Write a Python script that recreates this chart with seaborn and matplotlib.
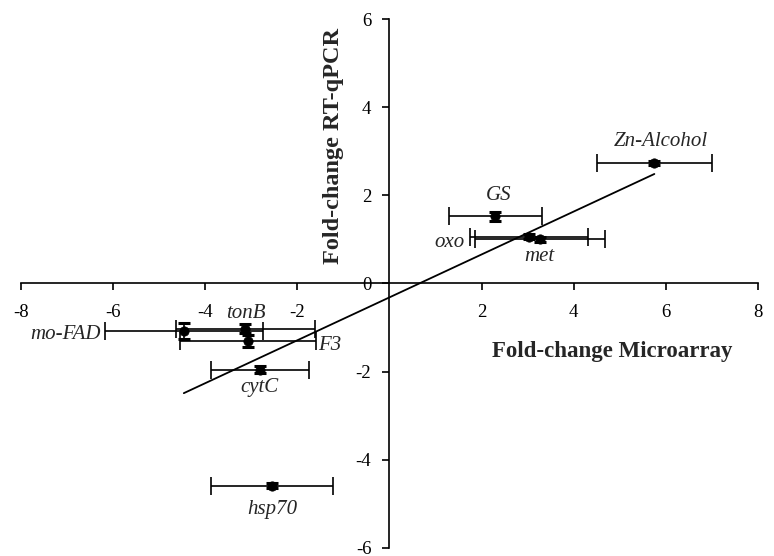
import numpy as np
import pandas as pd

import matplotlib
matplotlib.use("Agg")
import matplotlib.pyplot as plt
import seaborn as sns

# values
genes = ["Zn-Alcohol", "GS", "oxo", "met", "mo-FAD", "tonB", "F3", "cytC", "hsp70"]
microarray = [5.75, 2.30, 3.03, 3.26, -4.46, -3.13, -3.07, -2.81, -2.54]
qpcr = [2.73, 1.52, 1.06, 1.00, -1.08, -1.03, -1.31, -1.96, -4.59]
microarray_err = [1.24, 1.01, 1.29, 1.41, 1.72, 1.51, 1.47, 1.07, 1.32]
qpcr_err = [0.05, 0.11, 0.06, 0.06, 0.18, 0.10, 0.13, 0.08, 0.06]

x_ticks = [-8, -6, -4, -2, 2, 4, 6, 8]
y_ticks = [-6, -4, -2, 0, 2, 4, 6]

df = pd.DataFrame({"gene": genes, "x": microarray, "y": qpcr,
                   "xerr": microarray_err, "yerr": qpcr_err})

# label placement (pixel offsets from the point, alignment)
label_pos = {
    "Zn-Alcohol": (6, 22, "center"),
    "GS": (3, 21, "center"),
    "oxo": (-64, -6, "right"),
    "met": (0, -17, "center"),
    "mo-FAD": (-83, -3, "right"),
    "tonB": (1, 15, "center"),
    "F3": (70, -4, "left"),
    "cytC": (0, -18, "center"),
    "hsp70": (0, -24, "center"),
}

sns.set_theme(style="white")
plt.rcParams["font.family"] = ["Liberation Serif", "DejaVu Serif"]

fig = plt.figure(figsize=(7.74, 5.56), dpi=100)
ax = fig.add_axes([0.0267, 0.0145, 0.9527, 0.9513])

ax.errorbar(df["x"], df["y"], xerr=df["xerr"], fmt="none", ecolor="black",
            elinewidth=1.2, capsize=6.5, capthick=1.2)
ax.errorbar(df["x"], df["y"], yerr=df["yerr"], fmt="none", ecolor="black",
            elinewidth=1.2, capsize=4.5, capthick=2.2)
sns.regplot(x="x", y="y", data=df, scatter=False, ci=None, truncate=True,
            color="black", line_kws={"linewidth": 1.3}, ax=ax)
sns.scatterplot(x="x", y="y", data=df, color="black", s=45, edgecolor="black",
                zorder=5, ax=ax)

for g, xv, yv in zip(genes, microarray, qpcr):
    dx, dy, ha = label_pos[g]
    ax.annotate(g, (xv, yv), xytext=(dx, dy), textcoords="offset pixels",
                ha=ha, va="center", fontsize=15, style="italic")

ax.set_xlim(-8, 8)
ax.set_ylim(-6, 6)
ax.spines["left"].set_position(("data", 0))
ax.spines["bottom"].set_position(("data", 0))
ax.spines["top"].set_visible(False)
ax.spines["right"].set_visible(False)
for s in ["left", "bottom"]:
    ax.spines[s].set_color("black")
    ax.spines[s].set_linewidth(1.2)

ax.set_xticks(x_ticks)
ax.set_yticks(y_ticks)
ax.set_xticklabels([str(t) for t in x_ticks])
ax.set_yticklabels([str(t) for t in y_ticks])
ax.tick_params(axis="x", direction="out", length=5, width=1.2, pad=10,
               labelsize=13.5, bottom=True, colors="black")
ax.tick_params(axis="y", direction="out", length=5, width=1.2, pad=8,
               labelsize=13.5, left=True, colors="black")
ax.set_xlabel("")
ax.set_ylabel("")

fig.text(733 / 774, 1 - 351 / 556, "Fold-change Microarray", ha="right",
         va="center", fontsize=16.5, fontweight="bold")
fig.text(334 / 774, 1 - 146 / 556, "Fold-change RT-qPCR", ha="center",
         va="center", rotation=90, fontsize=17.5, fontweight="bold")

fig.savefig("out.png", dpi=100)
